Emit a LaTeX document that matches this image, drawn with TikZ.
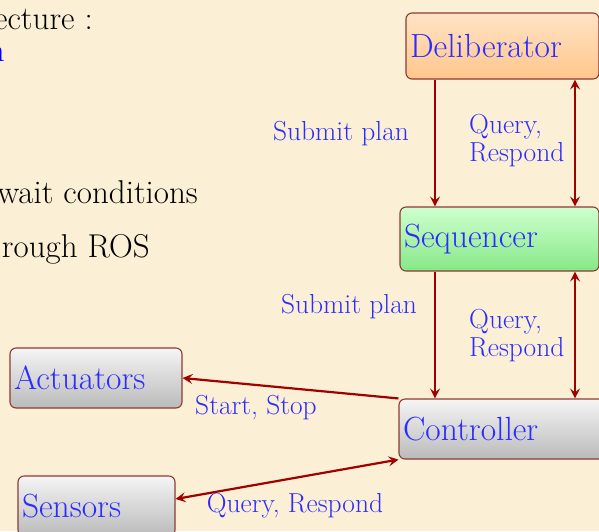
\documentclass[tikz,border=0pt]{standalone}
\usetikzlibrary{arrows.meta,calc}
\definecolor{parch}{HTML}{FBF0D5}
\definecolor{linkred}{HTML}{A00000}
\definecolor{labblue}{HTML}{2C2CFF}
\definecolor{boxedge}{HTML}{8E3A32}
\definecolor{peachtop}{HTML}{FFE3C4}
\definecolor{peachbot}{HTML}{FFC68C}
\definecolor{mintop}{HTML}{CFFFCF}
\definecolor{minbot}{HTML}{86E886}
\begin{document}
\begin{tikzpicture}[x=1pt,y=-1pt,
  box/.style={draw=boxedge, line width=1.1pt, rounded corners=6pt,
    inner xsep=4pt, inner ysep=0pt, align=left, text=labblue,
    font=\fontsize{33.5}{36}\selectfont},
  orangebox/.style={top color=peachtop, bottom color=peachbot},
  greenbox/.style={top color=mintop, bottom color=minbot},
  graybox/.style={top color=black!4, bottom color=black!27},
  link/.style={draw=linkred, line width=2.2pt,
    -{Stealth[length=10pt,width=10pt,inset=4pt]}},
  duplex/.style={draw=linkred, line width=2.2pt,
    {Stealth[length=10pt,width=10pt,inset=4pt]}-{Stealth[length=10pt,width=10pt,inset=4pt]}},
  lab/.style={text=labblue, font=\fontsize{27.5}{28}\selectfont, inner sep=0pt, align=left},
  bodytext/.style={font=\fontsize{33}{36}\selectfont, inner sep=0pt, anchor=base east}
]
\clip (0,0) rectangle (599,531);
\fill[parch] (0,0) rectangle (599,531);

% text of the slide body, running off the left edge
\node[bodytext] (t1) at (93,29) {ecture :};
\node[bodytext, text=blue] (t2) at (5,61) {n};
\node[bodytext] (t3) at (198,203) {wait conditions};
\node[bodytext] (t4) at (150,257) {rough ROS};

% layers of the architecture
\node[box, orangebox, text width=185pt, minimum height=66pt] (delib) at (502.5,46) {Deliberator};
\node[box, greenbox, text width=191pt, minimum height=64pt] (seq) at (499.5,239) {Sequencer};
\node[box, graybox, text width=198pt, minimum height=60pt] (ctrl) at (502,429) {Controller};
\node[box, graybox, text width=164pt, minimum height=60pt] (act) at (96,378) {Actuators};
\node[box, graybox, text width=149pt, minimum height=60pt] (sens) at (96.5,506) {Sensors};

% vertical links
\coordinate (xl) at (435,0);
\coordinate (xr) at (575,0);
\draw[link] (delib.south -| xl) -- (seq.north -| xl);
\draw[duplex] (delib.south -| xr) -- (seq.north -| xr);
\draw[link] (seq.south -| xl) -- (ctrl.north -| xl);
\draw[duplex] (seq.south -| xr) -- (ctrl.north -| xr);

% links to the hardware side
\draw[link] (ctrl.north west) -- (act.east);
\draw[duplex] ($(sens.east)+(0,-7)$) -- (ctrl.south west);

% link labels
\node[lab] (l1) at (341,134) {Submit plan};
\node[lab, anchor=west] (l2) at (469,141) {Query,\\Respond};
\node[lab] (l3) at (349,307) {Submit plan};
\node[lab, anchor=west] (l4) at (469,336) {Query,\\Respond};
\node[lab] (l5) at (256,408) {Start, Stop};
\node[lab] (l6) at (295,506) {Query, Respond};
\end{tikzpicture}
\end{document}
